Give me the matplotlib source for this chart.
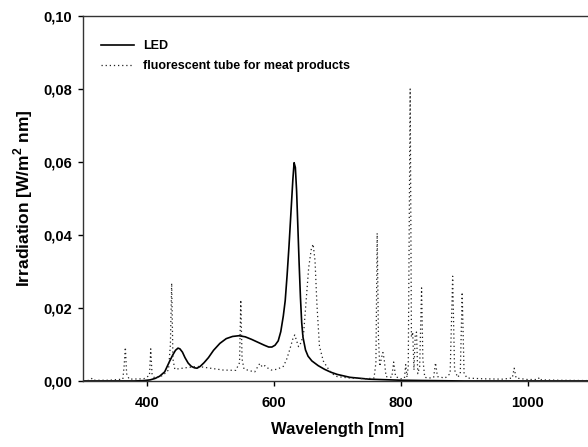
import matplotlib
matplotlib.use("Agg")
import matplotlib.pyplot as plt

plt.rcParams['font.family'] = ['Liberation Sans', 'DejaVu Sans']
plt.rcParams['font.weight'] = 'bold'
plt.rcParams['mathtext.fontset'] = 'custom'
plt.rcParams['mathtext.rm'] = 'Liberation Sans:bold'
plt.rcParams['mathtext.bf'] = 'Liberation Sans:bold'

# LED spectrum
led_wl = [300, 350, 380, 395, 405, 413, 420, 428, 436, 441, 445, 449, 452, 456, 460,
          465, 470, 475, 479, 484, 490, 497, 505, 515, 525, 535, 545, 555, 565, 575,
          585, 592, 597, 602, 607, 611, 615, 618, 621, 624, 627, 630, 632, 634, 636,
          638, 640, 642, 644, 646, 650, 654, 660, 670, 680, 690, 700, 720, 750, 800,
          850, 900, 1100]
led_irr = [0.0, 0.0, 0.0, 0.0001, 0.0003, 0.0007, 0.0013, 0.0025, 0.0055, 0.0072,
           0.0084, 0.0090, 0.0088, 0.0079, 0.0064, 0.0049, 0.0040, 0.0036, 0.0035,
           0.0040, 0.0050, 0.0064, 0.0084, 0.0103, 0.0116, 0.0122, 0.0124, 0.0121,
           0.0114, 0.0106, 0.0098, 0.0093, 0.0093, 0.0098, 0.0110, 0.0135, 0.0178,
           0.0220, 0.0290, 0.0370, 0.0460, 0.0550, 0.0598, 0.0585, 0.0520, 0.0420,
           0.0320, 0.0230, 0.0160, 0.0120, 0.0085, 0.0068, 0.0055, 0.0042, 0.0032,
           0.0024, 0.0018, 0.0010, 0.0005, 0.0002, 0.0001, 0.0, 0.0]

# Fluorescent tube for meat products
fl_wl = [300, 310, 314, 318, 340, 362, 364, 366, 368, 372, 395, 404, 406, 408, 412,
         425, 434, 437, 439, 441, 444, 460, 480, 500, 520, 540, 546, 548, 550, 553,
         562, 570, 575, 578, 582, 586, 590, 596, 605, 615, 620, 625, 630, 633, 636,
         639, 643, 647, 651, 655, 659, 662, 665, 668, 672, 678, 684, 692, 700, 720,
         745, 758, 761, 763, 765, 767, 770, 772, 774, 777, 786, 789, 792, 800, 806,
         808, 810, 812, 815, 817, 819, 821, 823, 825, 827, 830, 833, 835, 838, 845,
         852, 855, 858, 870, 878, 882, 885, 890, 894, 897, 900, 905, 930, 960, 976,
         979, 982, 1000, 1016, 1019, 1022, 1050, 1100]
fl_irr = [0.0, 0.0002, 0.0008, 0.0002, 0.0002, 0.0005, 0.004, 0.0092, 0.002, 0.0005,
          0.0006, 0.0015, 0.0088, 0.002, 0.0008, 0.0015, 0.003, 0.010, 0.0268, 0.006,
          0.0032, 0.0036, 0.0040, 0.0035, 0.0030, 0.0029, 0.005, 0.0222, 0.006, 0.0033,
          0.0028, 0.0025, 0.004, 0.0048, 0.0038, 0.0042, 0.0036, 0.003, 0.0032, 0.0040,
          0.0058, 0.0085, 0.0115, 0.0126, 0.011, 0.0094, 0.0105, 0.013, 0.022, 0.031,
          0.036, 0.0375, 0.033, 0.021, 0.0095, 0.0055, 0.0038, 0.002, 0.0012, 0.0008,
          0.0006, 0.0008, 0.005, 0.0405, 0.012, 0.004, 0.0065, 0.0078, 0.006, 0.0012,
          0.001, 0.0052, 0.0012, 0.0006, 0.0008, 0.0045, 0.001, 0.004, 0.080, 0.012,
          0.0134, 0.003, 0.0125, 0.0134, 0.002, 0.004, 0.0255, 0.006, 0.001, 0.0008,
          0.001, 0.005, 0.0012, 0.0008, 0.002, 0.0287, 0.003, 0.001, 0.002, 0.0243,
          0.002, 0.0008, 0.0006, 0.0005, 0.0008, 0.0035, 0.0008, 0.0004, 0.0004, 0.001,
          0.0003, 0.0002, 0.0001]

x_ticks = [400, 600, 800, 1000]
x_ticklabels = ['400', '600', '800', '1000']
y_ticks = [0.0, 0.02, 0.04, 0.06, 0.08, 0.10]
y_ticklabels = ['0,00', '0,02', '0,04', '0,06', '0,08', '0,10']

fig = plt.figure(figsize=(5.88, 4.47), dpi=100)
ax = fig.add_axes([0.142, 0.1477, 1.005 - 0.142, 0.9642 - 0.1477])

ax.plot(led_wl, led_irr, color='black', lw=1.2, ls='-', label='LED')
ax.plot(fl_wl, fl_irr, color='#222222', lw=0.9, ls=(0, (1, 2.3)),
        label='fluorescent tube for meat products')

ax.set_xlim(300, 1100)
ax.set_ylim(0, 0.10)
ax.set_xticks(x_ticks)
ax.set_xticklabels(x_ticklabels)
ax.set_yticks(y_ticks)
ax.set_yticklabels(y_ticklabels)
ax.tick_params(direction='out', length=3.6, width=1, labelsize=10.5, colors='black')
ax.tick_params(axis='x', pad=7)
ax.tick_params(axis='y', pad=4.5)
for lab in ax.get_xticklabels() + ax.get_yticklabels():
    lab.set_fontweight('bold')
for s in ax.spines.values():
    s.set_color('#333333')
    s.set_linewidth(1)

ax.set_xlabel('Wavelength [nm]', fontsize=12, fontweight='bold', labelpad=9)
ax.set_ylabel(r'Irradiation [W/m$^{2}$ nm]', fontsize=12.5, fontweight='bold', labelpad=6)

leg = ax.legend(loc='upper left', bbox_to_anchor=(0.0345, 0.933), frameon=False,
                borderpad=0, borderaxespad=0, handlelength=2.6, handletextpad=0.75,
                labelspacing=0.6, prop={'size': 9, 'weight': 'bold'})

fig.savefig('out.png', dpi=100)
